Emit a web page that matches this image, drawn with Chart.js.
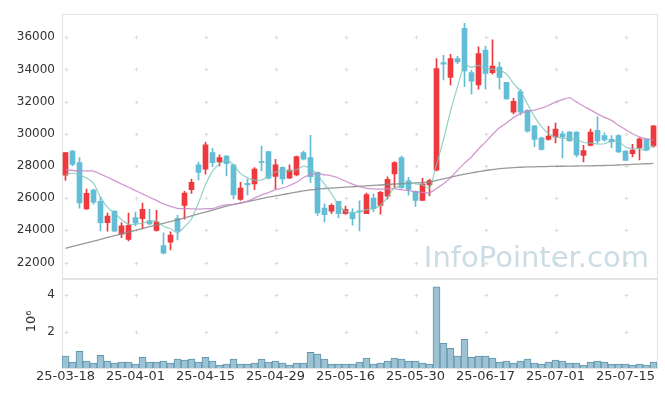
<!DOCTYPE html>
<html>
<head>
<meta charset="utf-8">
<script src="https://cdn.jsdelivr.net/npm/chart.js@4.4.1/dist/chart.umd.min.js"></script>
<style>
html, body { margin: 0; padding: 0; background: #fff; }
</style>
</head>
<body>
<canvas id="stockChart" width="665" height="396"></canvas>
<script>
// trading days
const dates = ['25-03-18','25-03-19','25-03-20','25-03-21','25-03-24','25-03-25','25-03-26','25-03-27','25-03-28','25-03-31',
  '25-04-01','25-04-02','25-04-03','25-04-04','25-04-07','25-04-08','25-04-09','25-04-10','25-04-11','25-04-14',
  '25-04-15','25-04-16','25-04-17','25-04-18','25-04-21','25-04-22','25-04-23','25-04-24','25-04-25','25-04-28',
  '25-04-29','25-04-30','25-05-02','25-05-07','25-05-08','25-05-09','25-05-12','25-05-13','25-05-14','25-05-15',
  '25-05-16','25-05-19','25-05-20','25-05-21','25-05-22','25-05-23','25-05-26','25-05-27','25-05-28','25-05-29',
  '25-05-30','25-06-02','25-06-04','25-06-05','25-06-09','25-06-10','25-06-11','25-06-12','25-06-13','25-06-16',
  '25-06-17','25-06-18','25-06-19','25-06-20','25-06-23','25-06-24','25-06-25','25-06-26','25-06-27','25-06-30',
  '25-07-01','25-07-02','25-07-03','25-07-04','25-07-07','25-07-08','25-07-09','25-07-10','25-07-11','25-07-14',
  '25-07-15','25-07-16','25-07-17','25-07-18','25-07-21'];

const opens = [27430,28930,28210,25340,26500,25810,24480,25200,23770,23430,
  24790,24730,24590,23990,23050,23260,24730,25550,26530,28070,
  27800,28830,28250,28620,28070,25920,26920,26880,28260,28890,
  27350,27910,27250,27440,28830,28520,27600,25390,25200,25800,
  25040,25080,25220,25040,26000,25550,26120,27500,28520,27080,
  26430,25860,26820,27740,34420,33500,34670,36550,33810,33030,
  35200,33790,34150,33190,31350,32620,31450,30500,29750,29650,
  29800,30000,30100,30100,28660,29280,30220,29890,29650,29890,
  28930,28770,29130,29650,29240];
const highs = [28830,28950,28520,26570,26560,26060,25080,25210,24480,25080,
  25140,25690,25300,25240,23850,23910,24940,26430,27190,28250,
  29480,29100,28690,28660,28110,26980,27190,27900,29240,28900,
  28420,27950,28070,28620,28930,29910,27620,25650,25650,25810,
  25510,25350,25830,26310,26270,26430,27320,28280,28620,27290,
  26460,27230,27190,34670,34870,34940,34810,36870,33950,35400,
  35450,35840,34460,33200,32210,32760,31500,30530,29800,30470,
  30670,30160,30150,30120,29280,30300,31060,30060,29890,29950,
  28950,29340,29750,29660,30510];
const lows = [27100,28000,25380,25300,25620,23970,23950,23930,23540,23350,
  24280,24110,24360,23950,22540,22790,23400,24690,26290,27130,
  27490,27950,28010,27390,25960,25860,26210,26530,27700,27190,
  26570,26880,27230,27390,28380,26980,24930,24530,25040,24770,
  25000,24320,23960,25030,25150,25000,25960,26650,26600,26180,
  25490,25840,26160,27700,33340,33030,34360,32930,32460,32780,
  32780,33700,32780,32150,31240,31180,30100,29200,28990,29600,
  29440,28500,29540,28560,28250,29240,29400,29545,29135,28830,
  28350,28560,28380,28930,29175];
const closes = [28830,28090,25710,26300,25750,24480,24890,23950,24280,24320,
  24440,25300,24400,24530,22580,23710,23950,26310,26980,27600,
  29320,28210,28520,28150,26200,26620,26820,27800,28210,27250,
  28070,27190,27740,28580,28420,27330,25080,24980,25550,25040,
  25300,24730,25140,26230,25350,26370,27170,28210,26650,26550,
  25860,26880,27090,34050,34320,34670,34460,33900,33270,34980,
  33750,34200,33500,32170,32010,31350,30170,29650,29030,29860,
  30300,29810,29550,28680,28950,30100,29550,29620,29500,28870,
  28350,28990,29690,28990,30500];
const volumes = [650000,320000,920000,380000,270000,700000,380000,270000,320000,320000,
  220000,590000,320000,320000,380000,270000,490000,430000,490000,320000,
  590000,380000,160000,220000,490000,220000,220000,270000,490000,320000,
  380000,270000,160000,270000,270000,860000,760000,490000,220000,220000,
  220000,220000,320000,540000,220000,270000,380000,540000,490000,380000,
  380000,270000,220000,4450000,1350000,1080000,650000,1570000,590000,650000,
  650000,540000,320000,380000,270000,380000,490000,270000,220000,320000,
  430000,380000,270000,270000,160000,320000,380000,320000,220000,220000,
  220000,160000,220000,160000,320000];
const ma5 = [27500,27550,27450,27250,26936,26066,25426,25074,24670,24384,
  24376,24458,24548,24598,24250,24104,23834,24216,24706,25710,
  26832,27684,28126,28360,28080,27540,27262,27118,27130,27340,
  27630,27704,27692,27766,28000,27852,27430,26878,26272,25596,
  25190,25120,25152,25288,25350,25564,26052,26666,26750,26990,
  26888,26830,26606,28086,29640,31402,32918,34280,34124,34256,
  34072,34020,33940,33720,33126,32646,31840,31070,30442,30012,
  29802,29730,29710,29640,29458,29418,29366,29380,29544,29528,
  29178,29066,29080,28978,29304];
const ma20 = [27760,27720,27700,27690,27680,27500,27300,27090,26880,26680,
  26470,26270,26060,25860,25650,25490,25370,25350,25340,25320,
  25345,25351,25491,25584,25606,25713,25810,26002,26199,26345,
  26527,26621,26788,26991,27283,27464,27520,27454,27382,27254,
  27053,26879,26710,26614,26572,26559,26577,26597,26519,26484,
  26374,26358,26326,26599,26894,27261,27730,28176,28562,29059,
  29482,29955,30373,30670,31003,31252,31402,31474,31593,31759,
  31981,32127,32250,31982,31713,31485,31239,31025,30837,30531,
  30261,30001,29810,29691,29615];
const ma120 = [22880,23000,23110,23220,23330,23440,23560,23670,23780,23890,
  24000,24110,24230,24340,24440,24550,24660,24780,24900,25020,
  25140,25260,25380,25500,25610,25700,25790,25880,25970,26060,
  26140,26220,26300,26380,26450,26510,26560,26600,26630,26660,
  26690,26710,26740,26760,26790,26820,26850,26880,26900,26930,
  26950,26970,26990,27100,27200,27300,27400,27490,27570,27650,
  27720,27780,27830,27870,27900,27920,27940,27950,27960,27970,
  27980,27985,27990,28000,28005,28010,28020,28030,28040,28060,
  28080,28100,28120,28140,28160];
const priceTicks = [22000,24000,26000,28000,30000,32000,34000,36000];
const volumeTicks = [2000000,4000000];
const volumeUnit = '10\u2076';

const upColor = '#ee3a3f';
const downColor = '#64bdd6';
const candleColors = closes.map((c, i) => c >= opens[i] ? upColor : downColor);

// grid crosses, panel frames, watermark
const decorPlugin = {
  id: 'decor',
  beforeDatasetsDraw(chart) {
    const ctx = chart.ctx;
    const xs = chart.scales.x, ys = chart.scales.y, yv = chart.scales.yv;
    ctx.save();
    ctx.strokeStyle = '#e2e2e2';
    ctx.lineWidth = 1;
    ctx.strokeRect(Math.round(xs.left) + 0.5, Math.round(ys.top) + 0.5, Math.round(xs.width), Math.round(ys.height));
    ctx.strokeRect(Math.round(xs.left) + 0.5, Math.round(yv.top) + 0.5, Math.round(xs.width), Math.round(yv.height));
    ctx.strokeStyle = '#dcdcdc';
    const ys1 = priceTicks.map(v => ys.getPixelForValue(v));
    const ys2 = volumeTicks.map(v => yv.getPixelForValue(v));
    for (let i = 0; i < dates.length; i += 10) {
      const x = Math.round(xs.getPixelForValue(i)) + 0.5;
      ys1.concat(ys2).forEach(y => {
        y = Math.round(y) + 0.5;
        ctx.beginPath();
        ctx.moveTo(x - 2, y); ctx.lineTo(x + 2, y);
        ctx.moveTo(x, y - 2); ctx.lineTo(x, y + 2);
        ctx.stroke();
      });
    }
    ctx.fillStyle = 'rgba(185,208,220,0.75)';
    ctx.font = '29px "DejaVu Sans"';
    ctx.textAlign = 'right';
    ctx.textBaseline = 'alphabetic';
    ctx.fillText('InfoPointer.com', xs.right - 8, ys.bottom - 12);
    ctx.restore();
  },
  // volume axis labels (the stacked axis drops them)
  afterDraw(chart) {
    const ctx = chart.ctx;
    const yv = chart.scales.yv;
    ctx.save();
    ctx.fillStyle = '#333';
    ctx.font = '12px "DejaVu Sans"';
    ctx.textAlign = 'right';
    ctx.textBaseline = 'middle';
    volumeTicks.forEach(v => ctx.fillText(String(v / 1000000), yv.right - 7, yv.getPixelForValue(v)));
    ctx.translate(32, (yv.top + yv.bottom) / 2 - 2);
    ctx.rotate(-Math.PI / 2);
    ctx.font = '13px "DejaVu Sans"';
    ctx.textAlign = 'center';
    ctx.fillText(volumeUnit, 0, 0);
    ctx.restore();
  }
};

const tickFont = { family: 'DejaVu Sans', size: 12 };

new Chart(document.getElementById('stockChart'), {
  type: 'bar',
  data: {
    labels: dates,
    datasets: [
      { type: 'line', data: ma5, yAxisID: 'y', borderColor: 'rgba(120,198,185,0.8)', borderWidth: 1.2, pointRadius: 0, tension: 0.2, order: 0 },
      { type: 'line', data: ma20, yAxisID: 'y', borderColor: 'rgba(200,135,196,0.85)', borderWidth: 1.3, pointRadius: 0, tension: 0.2, order: 0 },
      { type: 'line', data: ma120, yAxisID: 'y', borderColor: 'rgba(135,135,135,0.85)', borderWidth: 1.3, pointRadius: 0, tension: 0.2, order: 0 },
      { data: opens.map((o, i) => [o, closes[i]]), yAxisID: 'y', backgroundColor: candleColors, barThickness: 5, minBarLength: 1, grouped: false, order: 1 },
      { data: lows.map((l, i) => [l, highs[i]]), yAxisID: 'y', backgroundColor: candleColors, barThickness: 1, grouped: false, order: 2 },
      { data: volumes, yAxisID: 'yv', backgroundColor: '#9cc2d3', borderColor: '#5f95ad', borderWidth: 1, barPercentage: 1, categoryPercentage: 1, grouped: false, order: 3 }
    ]
  },
  options: {
    responsive: false,
    animation: false,
    layout: { padding: { top: 10, right: 8, left: 0, bottom: 0 } },
    plugins: { legend: { display: false }, tooltip: { enabled: false } },
    scales: {
      x: {
        offset: true,
        grid: { display: false, drawTicks: false },
        border: { display: false },
        afterFit: s => { s.height = 28; },
        ticks: {
          autoSkip: false, maxRotation: 0, padding: 1,
          font: { family: 'DejaVu Sans', size: 13 }, color: '#333',
          callback: (v, i) => i % 10 === 0 ? dates[i] : ''
        }
      },
      yv: {
        position: 'left', stack: 'panels', stackWeight: 1,
        min: 0, max: 4900000,
        grid: { display: false, drawTicks: false }, border: { display: false },
        afterBuildTicks: s => { s.ticks = volumeTicks.map(v => ({ value: v })); },
        afterFit: s => { s.width = 62; },
        ticks: { display: false }
      },
      y: {
        position: 'left', stack: 'panels', stackWeight: 2.96,
        min: 21000, max: 37430,
        grid: { display: false, drawTicks: false }, border: { display: false },
        afterBuildTicks: s => { s.ticks = priceTicks.map(v => ({ value: v })); },
        afterFit: s => { s.width = 62; },
        ticks: { font: tickFont, color: '#333', padding: 7, autoSkip: false, callback: v => String(v) }
      }
    }
  },
  plugins: [decorPlugin]
});
</script>
</body>
</html>
